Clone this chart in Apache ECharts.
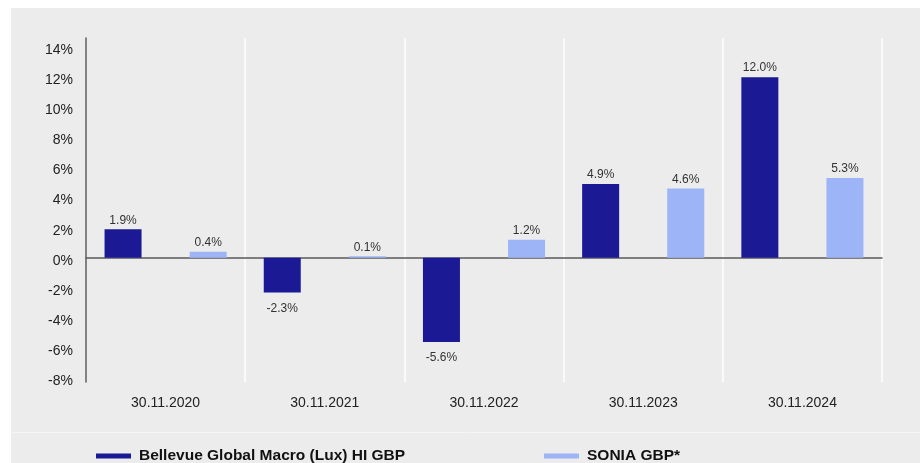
<!DOCTYPE html>
<html>
<head>
<meta charset="utf-8">
<script src="https://cdn.jsdelivr.net/npm/echarts@6/dist/echarts.min.js"></script>
<style>
  html, body { margin: 0; padding: 0; background: #fff; }
  #wrap { position: relative; width: 920px; height: 463px; }
  #panel { position: absolute; left: 11px; top: 8px; right: 0; bottom: 0; background: #ececec; }
  #chart { position: absolute; left: 0; top: 0; width: 920px; height: 463px; }
</style>
</head>
<body>
<div id="wrap">
  <div id="panel"></div>
  <div id="chart"></div>
</div>
<script>
// yearly performance to 30.11. of each year
const categories = ['30.11.2020', '30.11.2021', '30.11.2022', '30.11.2023', '30.11.2024'];
const fundName = 'Bellevue Global Macro (Lux) HI GBP';
const soniaName = 'SONIA GBP*';
const fundValues = [1.9, -2.3, -5.6, 4.9, 12.0];
const soniaValues = [0.4, 0.1, 1.2, 4.6, 5.3];
const yTicks = [-8, -6, -4, -2, 0, 2, 4, 6, 8, 10, 12, 14];

const FONT = '"Liberation Sans", Arial, sans-serif';
const DARK = '#1b1994';
const LIGHT = '#9db5f7';

// labels above positive bars, below negative ones
const withLabels = (vals) =>
  vals.map((v) => ({
    value: v,
    label: { position: v < 0 ? 'bottom' : 'top', distance: v < 0 ? 10 : 3 },
  }));

const legendText = { color: '#111', fontSize: 15.5, fontWeight: 'bold', fontFamily: FONT, padding: [0, 0, 0, 3] };

const chart = echarts.init(document.getElementById('chart'));
chart.setOption({
  backgroundColor: 'transparent',
  animation: false,
  textStyle: { fontFamily: FONT },
  grid: { left: 86, right: 38, top: 38, bottom: 81 },
  legend: [
    { data: [fundName], left: 91, top: 443, icon: 'rect', itemWidth: 35, itemHeight: 5, textStyle: legendText },
    { data: [soniaName], left: 539, top: 443, icon: 'rect', itemWidth: 35, itemHeight: 5, textStyle: legendText },
  ],
  graphic: [
    {
      type: 'line',
      shape: { x1: 11, y1: 432.5, x2: 920, y2: 432.5 },
      style: { stroke: '#f5f5f5', lineWidth: 1 },
      silent: true,
    },
  ],
  xAxis: {
    type: 'category',
    data: categories,
    axisLine: { onZero: true, lineStyle: { color: '#5a5a5a', width: 1.5 } },
    axisTick: { show: false },
    axisLabel: { color: '#222', fontSize: 14, margin: 14, fontFamily: FONT },
    splitLine: { show: true, lineStyle: { color: '#ffffff', width: 1.5 } },
  },
  yAxis: {
    type: 'value',
    min: -8.25,
    max: 14.6,
    axisLine: { show: true, lineStyle: { color: '#5a5a5a', width: 1.5 } },
    axisTick: { show: false },
    splitLine: { show: false },
    axisLabel: {
      customValues: yTicks,
      // labels sit a touch below their tick in the original
      formatter: (v) => '{v|' + v + '%}',
      rich: { v: { color: '#222', fontSize: 14, fontFamily: FONT, padding: [6, 0, 0, 0] } },
      margin: 13,
    },
  },
  series: [
    {
      name: fundName,
      type: 'bar',
      data: withLabels(fundValues),
      barWidth: 37,
      barGap: '130%',
      itemStyle: { color: DARK },
      label: { show: true, color: '#333', fontSize: 12, fontFamily: FONT, formatter: (p) => p.value.toFixed(1) + '%' },
    },
    {
      name: soniaName,
      type: 'bar',
      data: withLabels(soniaValues),
      barWidth: 37,
      barGap: '130%',
      itemStyle: { color: LIGHT },
      label: { show: true, color: '#333', fontSize: 12, fontFamily: FONT, formatter: (p) => p.value.toFixed(1) + '%' },
    },
  ],
});
</script>
</body>
</html>
